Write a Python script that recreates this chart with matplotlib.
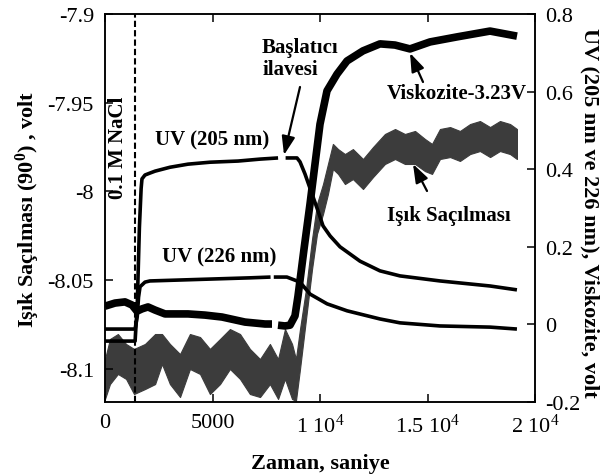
import numpy as np
import matplotlib
matplotlib.use("Agg")
import matplotlib.pyplot as plt

plt.rcParams['font.family'] = ['Liberation Serif', 'DejaVu Serif']
plt.rcParams['mathtext.fontset'] = 'custom'
plt.rcParams['mathtext.rm'] = 'Liberation Serif'
plt.rcParams['mathtext.it'] = 'Liberation Serif:italic'
plt.rcParams['mathtext.bf'] = 'Liberation Serif:bold'

nan = np.nan

# ---- data (time in s) ----
# UV 205 nm (right axis, volt)
t_uv205 = [0, 1400, 1500, 1600, 1680, 1720, 1860, 2090, 2330, 3020, 3860, 4880, 6190, 7210, 8050,
           8180, 8400, 8930, 9070, 9300, 9630, 9910, 10140, 10470, 10930, 11860, 12790, 13720,
           15580, 17910, 19160]
v_uv205 = [-0.043, -0.043, 0.05, 0.25, 0.35, 0.375, 0.385, 0.39, 0.395, 0.405, 0.413, 0.418, 0.421,
           0.426, 0.429, nan, 0.429, 0.429, 0.419, 0.388, 0.336, 0.292, 0.254, 0.228, 0.20, 0.163,
           0.138, 0.125, 0.112, 0.099, 0.089]

# UV 226 nm (right axis, volt)
t_uv226 = [0, 1400, 1500, 1560, 1630, 1860, 2090, 4420, 6740, 7700, 7780, 7850, 8460, 9070, 9540,
           10330, 11260, 12790, 13720, 15580, 17910, 19160]
v_uv226 = [-0.012, -0.012, 0.02, 0.07, 0.097, 0.109, 0.112, 0.116, 0.12, 0.122, nan, 0.122, 0.122,
           0.109, 0.078, 0.053, 0.035, 0.014, 0.004, -0.004, -0.007, -0.012]

# Viscosity - 3.23 V (right axis, volt)
t_visc = [0, 465, 930, 1256, 1488, 1721, 2000, 2326, 2791, 3860, 4651, 5442, 6512, 7442, 7767,
          7900, 8047, 8372, 8605, 8837, 8977, 9256, 9535, 9767, 10000, 10326, 10791, 11256, 12000,
          12791, 13488, 14186, 15116, 16372, 17907, 19163]
v_visc = [0.047, 0.055, 0.058, 0.050, 0.034, 0.040, 0.045, 0.037, 0.027, 0.027, 0.024, 0.019, 0.006,
          0.001, 0.001, nan, -0.002, -0.004, -0.002, 0.022, 0.073, 0.194, 0.310, 0.413, 0.516, 0.602,
          0.645, 0.679, 0.705, 0.723, 0.720, 0.710, 0.728, 0.741, 0.756, 0.743]

# Light scattering (left axis, volt): noisy band envelope
t_ls = [0, 230, 600, 980, 1350, 1860, 2330, 2650, 3020, 3490, 3950, 4420, 4880, 5350, 5810, 6280,
        6740, 7210, 7670, 8050, 8370, 8700, 8880, 9070, 9350, 9630, 9860, 10140, 10370, 10600,
        10840, 11160, 11530, 12000, 12470, 13020, 13490, 13950, 14420, 14880, 15210, 15580, 16050,
        16510, 16980, 17440, 17910, 18370, 18840, 19160]
ls_top = [-8.0944, -8.0831, -8.0803, -8.0859, -8.0887, -8.0859, -8.0803, -8.0803, -8.0859, -8.0916,
          -8.0803, -8.0820, -8.0887, -8.0831, -8.0775, -8.0803, -8.0887, -8.0944, -8.0859, -8.0944,
          -8.0775, -8.0859, -8.0944, -8.0775, -8.0549, -8.0268, -8.0070, -7.9958, -7.9845, -7.9732,
          -7.9761, -7.9789, -7.9761, -7.9817, -7.9749, -7.9676, -7.9648, -7.9676, -7.9659, -7.9704,
          -7.9732, -7.9648, -7.9637, -7.9659, -7.9620, -7.9603, -7.9637, -7.9603, -7.9620, -7.9648]
ls_bot = [-8.1169, -8.1085, -8.1028, -8.1056, -8.1141, -8.1113, -8.1085, -8.0972, -8.1085, -8.1158,
          -8.1000, -8.1028, -8.1141, -8.1085, -8.1000, -8.1056, -8.1141, -8.1158, -8.1085, -8.1169,
          -8.1056, -8.1169, -8.1180, -8.1000, -8.0718, -8.0437, -8.0239, -8.0127, -8.0014, -7.9873,
          -7.9901, -7.9958, -7.9930, -7.9986, -7.9918, -7.9845, -7.9817, -7.9845, -7.9845, -7.9885,
          -7.9901, -7.9817, -7.9806, -7.9828, -7.9789, -7.9772, -7.9806, -7.9772, -7.9789, -7.9817]

t_nacl = 1400

x_ticks = [0, 5000, 10000, 15000, 20000]
x_labels = ['0', '5000', r'1 10$^{4}$', r'1.5 10$^{4}$', r'2 10$^{4}$']
yl_ticks = [-8.1, -8.05, -8.0, -7.95, -7.9]
yl_labels = ['-8.1', '-8.05', '-8', '-7.95', '-7.9']
yr_ticks = [-0.2, 0, 0.2, 0.4, 0.6, 0.8]
yr_labels = ['-0.2', '0', '0.2', '0.4', '0.6', '0.8']

# ---- figure ----
fig = plt.figure(figsize=(6.05, 4.77), dpi=100)
ax = fig.add_axes([105/605, 1-403/477, 430/605, 388/477])
ax2 = ax.twinx()

ax.fill_between(t_ls, ls_bot, ls_top, color='#3c3c3c', lw=0.8, edgecolor='#3c3c3c')
ax.axvline(t_nacl, color='black', lw=1.5, ls=(0, (3, 1.5)))

ax2.plot(t_uv205, v_uv205, color='black', lw=2.6, solid_capstyle='butt')
ax2.plot(t_uv226, v_uv226, color='black', lw=2.6, solid_capstyle='butt')
ax2.plot(t_visc, v_visc, color='black', lw=5.5, solid_capstyle='butt', solid_joinstyle='round')

ax.set_xlim(0, 20000)
ax.set_ylim(-8.1186, -7.9)
ax2.set_ylim(-0.2, 0.8)

ax.set_xticks(x_ticks, x_labels)
ax.set_yticks(yl_ticks, yl_labels)
ax2.set_yticks(yr_ticks, yr_labels)

for a in (ax, ax2):
    for s in a.spines.values():
        s.set_linewidth(1.1)
ax.tick_params(axis='both', direction='in', length=6, width=1.1, labelsize=16, pad=8, top=True, right=False)
ax2.tick_params(axis='y', direction='in', length=6, width=1.1, labelsize=16, pad=7)

ax.set_xlabel('Zaman, saniye', fontsize=16, fontweight='bold', labelpad=12)
ax.set_ylabel(r'Işık Saçılması (90$^{\mathbf{0}}$) , volt', fontsize=16, fontweight='bold', labelpad=4)
fig.text(590/605, 1 - 213/477, 'UV (205 nm ve 226 nm), Viskozite, volt', fontsize=16,
         fontweight='bold', rotation=270, ha='center', va='center')

def fx(px):
    return (px - 105) / 430

def fy(py):
    return (403 - py) / 388

tk = dict(transform=ax.transAxes, fontsize=15, fontweight='bold')
ax.text(fx(118), fy(148), '0.1 M NaCl', rotation=90, ha='center', va='center', **tk)
ax.text(fx(262), fy(53), 'Başlatıcı', ha='left', va='baseline', **tk)
ax.text(fx(263), fy(75), 'ilavesi', ha='left', va='baseline', **tk)
ax.text(fx(155), fy(145), 'UV (205 nm)', ha='left', va='baseline', **tk)
ax.text(fx(162), fy(262), 'UV (226 nm)', ha='left', va='baseline', **tk)
ax.text(fx(527), fy(99), 'Viskozite-3.23V', ha='right', va='baseline', **tk)
ax.text(fx(511), fy(221), 'Işık Saçılması', ha='right', va='baseline', **tk)

ap = dict(arrowstyle='-|>,head_length=0.7,head_width=0.25', color='black', lw=1.6,
          mutation_scale=16, shrinkA=0, shrinkB=0)
ax.annotate('', xy=(fx(284), fy(156)), xytext=(fx(300), fy(88)), xycoords='axes fraction',
            textcoords='axes fraction', arrowprops=ap)
ax.annotate('', xy=(fx(410), fy(54)), xytext=(fx(423), fy(83)), xycoords='axes fraction',
            textcoords='axes fraction', arrowprops=ap)
ax.annotate('', xy=(fx(413), fy(165)), xytext=(fx(427), fy(192)), xycoords='axes fraction',
            textcoords='axes fraction', arrowprops=ap)

fig.savefig('out.png', dpi=100)
